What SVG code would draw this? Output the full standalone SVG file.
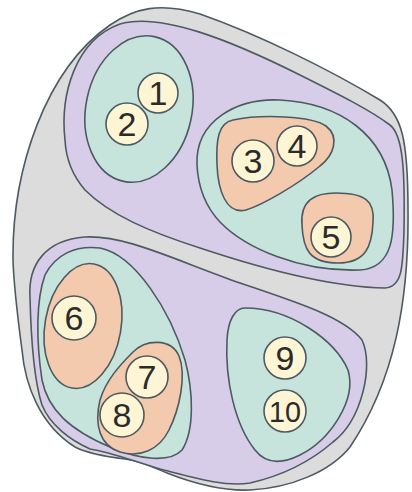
<svg xmlns="http://www.w3.org/2000/svg" width="412" height="492" viewBox="0 0 412 492">
<style>
.s{stroke:#4e5a62;stroke-width:1.6;stroke-linejoin:round}
.g{fill:#dcdcdc}.p{fill:#d7cde8}.t{fill:#c6e4dc}.o{fill:#f3caae}
.c{fill:#fdf5d3;stroke:#4e5a62;stroke-width:1.6}
.n{font-family:"Liberation Sans",Arial,sans-serif;font-size:34px;fill:#2b2b2b;text-anchor:middle}
</style>
<rect width="412" height="492" fill="#ffffff"/>
<g id="outer">
<path class="s g" d="M13,260 C12,170 45,70 110,25 C135,8 160,2 200,14 C260,35 330,70 380,100 C402,114 408,140 408,210 C409,300 395,380 350,447 C330,472 290,488 250,490 C225,491 195,484 167,473 C150,466 140,461 125,459 C100,456 85,452 75,447 C40,425 25,385 22,350 C18,320 14,290 13,260 Z"/>
</g>
<g id="set-top">
<path class="s p" d="M65,140 C60,95 75,40 120,24 C160,12 230,40 300,75 C340,95 370,110 390,125 C403,135 405,170 404,230 C403,268 402,287 385,288 C330,287 260,268 200,248 C150,232 110,215 85,190 C72,175 66,160 65,140 Z"/>
</g>
<g id="set-bottom">
<path class="s p" d="M30,297 C28,265 45,240 85,237 C125,235 170,258 240,283 C300,303 345,318 362,340 C374,365 362,420 333,442 C310,462 285,475 250,483 C225,487 195,478 160,469 C130,460 110,452 90,449 C70,440 50,425 42,405 C34,380 31,340 30,297 Z"/>
</g>
<g id="set-12">
<ellipse class="s t" cx="139" cy="109" rx="53" ry="74" transform="rotate(12 139 109)"/>
</g>
<g id="set-345">
<path class="s t" d="M197,165 C195,120 238,98 280,100 C340,103 385,135 392,190 C396,235 393,268 360,270 C300,272 245,248 220,222 C204,205 198,185 197,165 Z"/>
</g>
<g id="set-34">
<path class="s o" d="M233,120 C262,114 312,116 326,126 C340,137 334,155 320,166 C296,186 262,205 246,210 C226,215 218,190 217,165 C216,140 218,123 233,120 Z"/>
</g>
<g id="set-5">
<path class="s o" d="M302,225 C300,200 315,193 336,193 C365,193 375,201 373,222 C372,246 366,263 338,263 C310,263 303,250 302,225 Z"/>
</g>
<g id="set-678">
<path class="s t" d="M100,248 C135,255 170,310 185,360 C193,390 195,430 182,450 C170,463 140,460 110,447 C70,430 48,410 42,380 C36,340 36,300 45,275 C55,255 75,245 100,248 Z"/>
</g>
<g id="set-6">
<ellipse class="s o" cx="83" cy="326" rx="38" ry="63" transform="rotate(10 83 326)"/>
</g>
<g id="set-78">
<path class="s o" d="M133,352 C146,339 171,338 179,356 C187,376 179,410 169,430 C159,450 140,458 120,452 C100,446 94,425 100,400 C106,380 120,365 133,352 Z"/>
</g>
<g id="set-910">
<path class="s t" d="M245,308 C290,308 335,340 348,370 C357,400 330,440 300,455 C280,465 265,463 255,450 C235,425 225,380 227,340 C228,320 235,308 245,308 Z"/>
</g>
<g id="n1"><circle class="c" cx="158" cy="93" r="20"/><text class="n" x="158" y="105">1</text></g>
<g id="n2"><circle class="c" cx="127" cy="124" r="21"/><text class="n" x="127" y="136">2</text></g>
<g id="n3"><circle class="c" cx="253" cy="161" r="21"/><text class="n" x="253" y="173">3</text></g>
<g id="n4"><circle class="c" cx="297" cy="146" r="20"/><text class="n" x="297" y="158">4</text></g>
<g id="n5"><circle class="c" cx="331" cy="237" r="20"/><text class="n" x="331" y="249">5</text></g>
<g id="n6"><circle class="c" cx="74" cy="318" r="22"/><text class="n" x="74" y="330">6</text></g>
<g id="n7"><circle class="c" cx="147" cy="377" r="21"/><text class="n" x="147" y="389">7</text></g>
<g id="n8"><circle class="c" cx="122" cy="415" r="22"/><text class="n" x="122" y="427">8</text></g>
<g id="n9"><circle class="c" cx="285" cy="358" r="21"/><text class="n" x="285" y="370">9</text></g>
<g id="n10"><circle class="c" cx="285" cy="411" r="21"/><text class="n" x="285" y="422" style="font-size:30px" textLength="32" lengthAdjust="spacingAndGlyphs">10</text></g>
<g id="connectors"></g>
</svg>
